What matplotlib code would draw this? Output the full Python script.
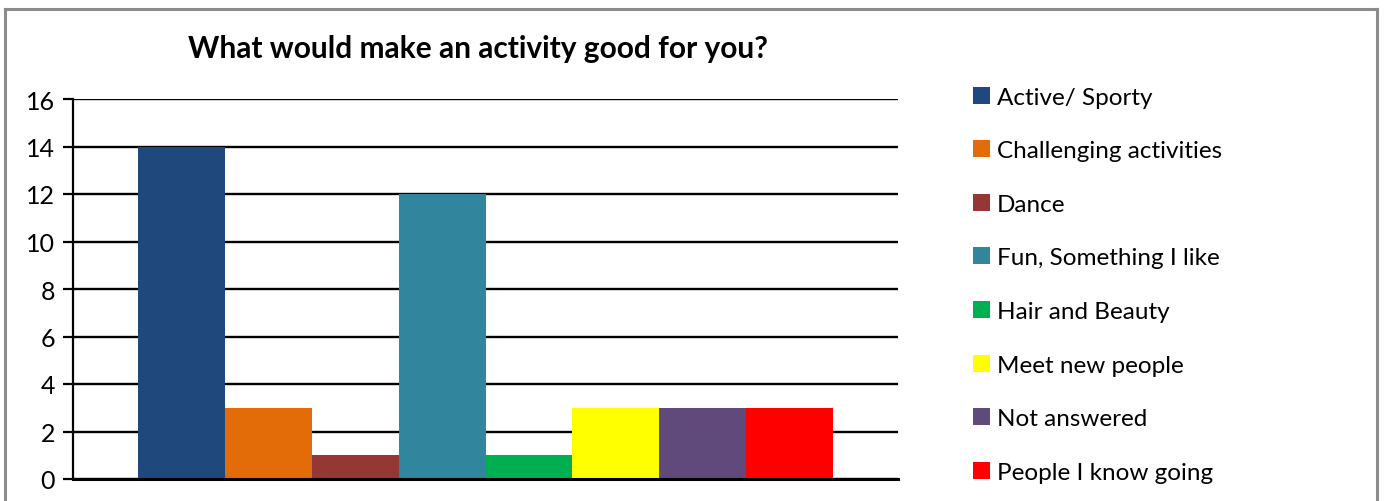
import matplotlib.pyplot as plt
from matplotlib.lines import Line2D
from matplotlib.patches import Patch

# survey answers
categories = ['Active/ Sporty', 'Challenging activities', 'Dance', 'Fun, Something I like',
              'Hair and Beauty', 'Meet new people', 'Not answered', 'People I know going']
counts = [14, 3, 1, 12, 1, 3, 3, 3]
colors = ['#1F497D', '#E36C09', '#953735', '#31859C', '#00B050', '#FFFF00', '#604A7B', '#FF0000']
yticks = [0, 2, 4, 6, 8, 10, 12, 14, 16]

plt.rcParams['font.family'] = ['Lato', 'DejaVu Sans']

fig = plt.figure(figsize=(13.86, 5.02), dpi=100)
ax = fig.add_axes([73/1386, 1 - 480/502, 825/1386, 380/502])

# grey frame round the chart area (bottom edge falls outside the image)
fig.add_artist(Line2D([4.5/1386, 4.5/1386], [0, 1 - 10/502], color='#8c8c8c', lw=2.2))
fig.add_artist(Line2D([4.5/1386, 1377/1386], [1 - 10/502, 1 - 10/502], color='#8c8c8c', lw=2.2))
fig.add_artist(Line2D([1377/1386, 1377/1386], [0, 1 - 10/502], color='#8c8c8c', lw=2.2))

n = len(categories)
group = 694 / 825
w = group / n
for i in range(n):
    x = -group / 2 + w * (i + 0.5)
    ax.bar(x, counts[i], width=w, color=colors[i], zorder=3)

ax.set_xlim(-0.5, 0.5)
ax.set_ylim(0, 16)
ax.set_yticks(yticks)
ax.set_xticks([])
ax.tick_params(axis='y', length=7, width=1.6, labelsize=18, pad=6)
ax.grid(axis='y', color='black', lw=1.7, zorder=1)
for s in ['top', 'right']:
    ax.spines[s].set_visible(False)
ax.spines['left'].set_linewidth(1.6)
ax.spines['bottom'].set_linewidth(2.2)
ax.spines['bottom'].set_zorder(4)

fig.text(478/1386, 1 - 49/502, 'What would make an activity good for you?', ha='center', va='center',
         fontsize=21.5, fontweight='bold')

handles = [Patch(facecolor=c) for c in colors]
fig.legend(handles, categories, loc='upper left', bbox_to_anchor=(963/1386, 1 - 78/502),
           frameon=False, fontsize=17.5, handlelength=0.7, handleheight=0.7,
           handletextpad=0.3, labelspacing=1.34, borderaxespad=0)

fig.savefig('out.png', dpi=100)
